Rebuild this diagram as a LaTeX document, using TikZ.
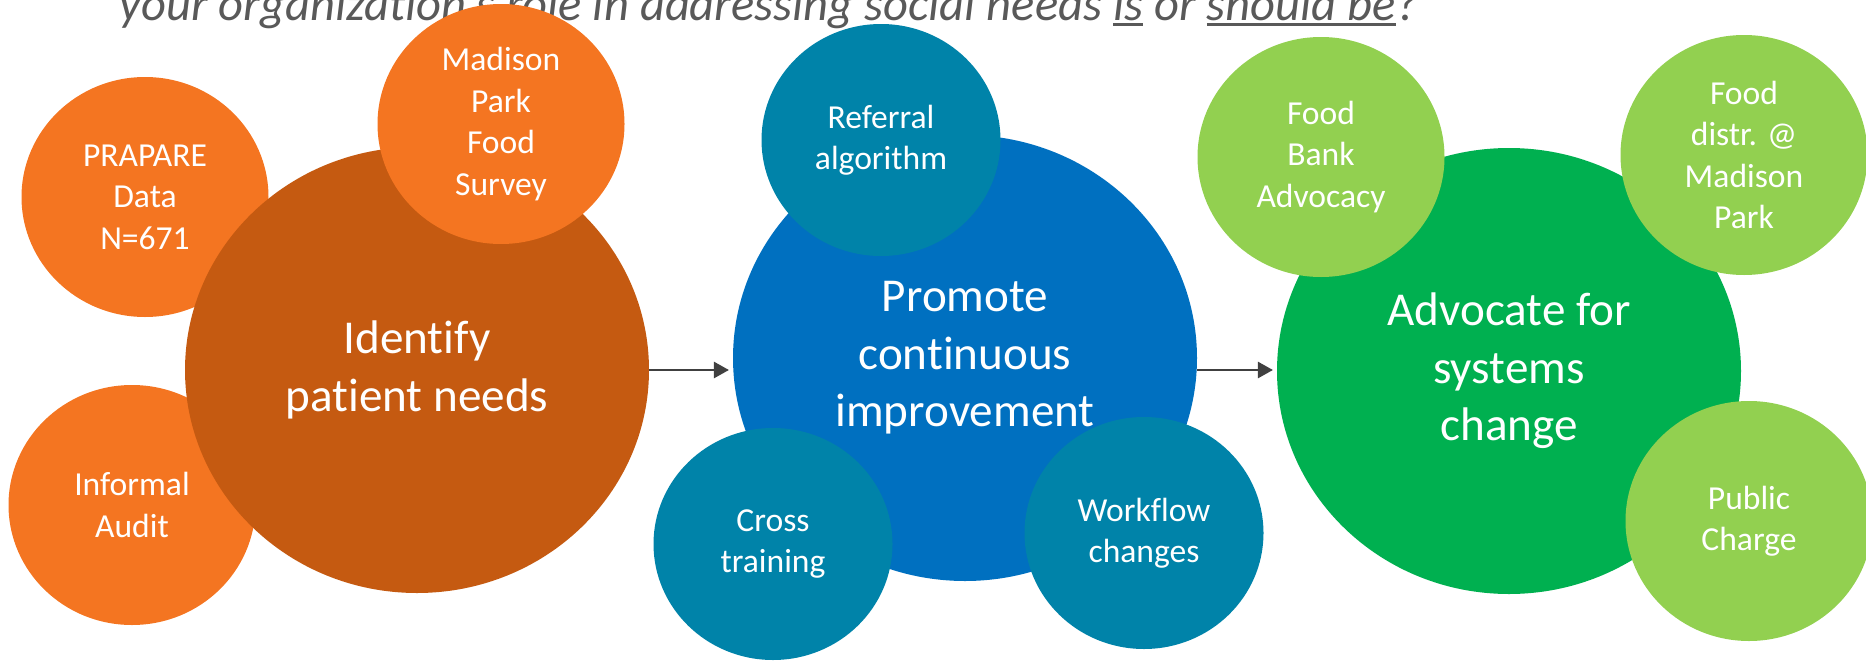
\documentclass[tikz,border=0pt]{standalone}
\usepackage{fontspec}
\setmainfont{Carlito}[Ligatures={TeX,CommonOff}]
\usepackage{tikz}
\usetikzlibrary{scopes,shapes.geometric,arrows.meta}
\definecolor{rust}{HTML}{C55A11}
\definecolor{tangerine}{HTML}{F47521}
\definecolor{ocean}{HTML}{0070C0}
\definecolor{petrol}{HTML}{0083A9}
\definecolor{leaf}{HTML}{00B050}
\definecolor{apple}{HTML}{92D050}
\definecolor{slate}{HTML}{595959}
\definecolor{arrowgrey}{HTML}{404040}
\newcommand{\bigtxt}{\fontsize{19.8}{24.2}\selectfont}
\newcommand{\smalltxt}{\fontsize{14.1}{17.4}\selectfont}
\newsavebox{\ulbox}
\newcommand{\uln}[1]{\sbox{\ulbox}{#1}\rlap{\rule[-1.9pt]{\wd\ulbox}{1.05pt}}\usebox{\ulbox}}

\begin{document}
\begin{tikzpicture}[
    x=0.42pt,y=-0.42pt,
    bubble/.style={ellipse,inner sep=0pt,text=white,align=center},
    main/.style={bubble,minimum width=464*0.42pt,minimum height=446*0.42pt,font=\bigtxt},
    side/.style={bubble,minimum width=247*0.42pt,minimum height=240*0.42pt,font=\smalltxt},
    sidet/.style={side,fill=petrol,minimum width=239*0.42pt,minimum height=232*0.42pt},
    flow/.style={draw=arrowgrey,line width=1.1pt,-{Triangle[length=6.3pt,width=6.7pt]},shorten >=1.5pt},
]
    \useasboundingbox (0,0) rectangle (1866,662);
    \node[anchor=base west,text=slate,font=\fontsize{20.4}{24}\selectfont\itshape] (question) at (111,21)
        {your organization’s role in addressing social needs \uln{is} or \uln{should be}?};

    \node[side,fill=tangerine] (prapare) at (145,197) {PRAPARE\\Data\\N=671};
    \node[side,fill=tangerine] (audit) at (132,505) {Informal\\Audit};
    \node[main,fill=rust] (identify) at (417,370) {Identify\\patient needs};
    \node[side,fill=tangerine] (survey) at (501,124) {Madison\\Park\\Food\\Survey};

    \node[main,fill=ocean] (promote) at (965,358) {Promote\\continuous\\improvement};
    \node[sidet] (referral) at (881,140) {Referral\\algorithm};
    \node[sidet] (training) at (773,544) {Cross\\training};
    \node[sidet] (workflow) at (1144,533) {Workflow\\changes};

    \node[main,fill=leaf] (advocate) at (1509,371) {Advocate for\\systems\\change};
    \node[side,fill=apple] (foodbank) at (1321,157) {Food\\Bank\\Advocacy};
    \node[side,fill=apple] (distr) at (1744,155) {Food\\distr. @\\Madison\\Park};
    \node[side,fill=apple] (charge) at (1749,521) {Public\\Charge};

    {[flow]
        \draw (identify.east) -- (identify.east -| promote.west);
        \draw (promote.east |- identify.east) -- (promote.east |- identify.east -| advocate.west);
    }
\end{tikzpicture}
\end{document}
